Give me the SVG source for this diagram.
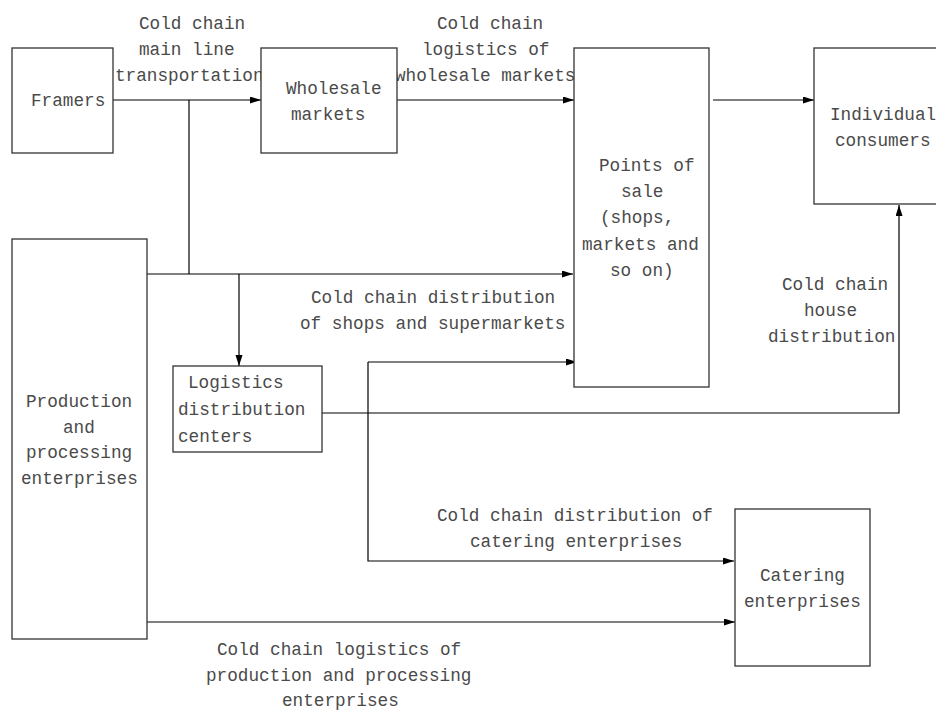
<svg xmlns="http://www.w3.org/2000/svg" width="936" height="710" viewBox="0 0 936 710">
<style>
.box{fill:#fff;stroke:#333;stroke-width:1.3}
.t{font-family:"Liberation Mono","DejaVu Sans Mono",monospace;font-size:17.7px;fill:#4a4a4a}
.c{fill:none;stroke:#000;stroke-width:1.2}
.a{marker-end:url(#ah)}
</style>
<defs>
<marker id="ah" markerUnits="userSpaceOnUse" markerWidth="12" markerHeight="8" refX="11" refY="3.5" orient="auto">
<path d="M0,0 L11,3.5 L0,7 z" fill="#000"/>
</marker>
</defs>
<rect width="936" height="710" fill="#fff"/>
<g id="connectors">
<path class="c a" d="M113,100 H261"/>
<path class="c a" d="M397,100 H574"/>
<path class="c a" d="M713,100 H814"/>
<path class="c" d="M189,100 V274"/>
<path class="c a" d="M147,274 H573"/>
<path class="c a" d="M239,274 V366"/>
<path class="c a" d="M322,413 H899 V205"/>
<path class="c a" d="M368,362 H577"/>
<path class="c a" d="M368,362 V561 H734"/>
<path class="c a" d="M147,622 H735"/>
</g>
<g id="labels">
<text class="t" x="139" y="29">Cold chain</text>
<text class="t" x="139" y="55">main line</text>
<text class="t" x="115" y="81">transportation</text>
<text class="t" x="437" y="29">Cold chain</text>
<text class="t" x="422" y="55">logistics of</text>
<text class="t" x="395" y="81">wholesale markets</text>
<text class="t" x="311" y="303">Cold chain distribution</text>
<text class="t" x="300" y="329">of shops and supermarkets</text>
<text class="t" x="782" y="290">Cold chain</text>
<text class="t" x="804" y="316">house</text>
<text class="t" x="768" y="342">distribution</text>
<text class="t" x="437" y="521">Cold chain distribution of</text>
<text class="t" x="470" y="547">catering enterprises</text>
<text class="t" x="217" y="655">Cold chain logistics of</text>
<text class="t" x="206" y="681">production and processing</text>
<text class="t" x="282" y="706">enterprises</text>
</g>
<g id="framers">
<rect class="box" x="12" y="48" width="101" height="105"/>
<text class="t" x="31" y="106">Framers</text>
</g>
<g id="wholesale">
<rect class="box" x="261" y="48" width="136" height="105"/>
<text class="t" x="286" y="94">Wholesale</text>
<text class="t" x="291" y="120">markets</text>
</g>
<g id="points-of-sale">
<rect class="box" x="574" y="48" width="135" height="339"/>
<text class="t" x="599" y="171">Points of</text>
<text class="t" x="621" y="197">sale</text>
<text class="t" x="600" y="223">(shops,</text>
<text class="t" x="582" y="250">markets and</text>
<text class="t" x="610" y="276">so on)</text>
</g>
<g id="consumers">
<rect class="box" x="814" y="48" width="136" height="156"/>
<text class="t" x="830" y="120">Individual</text>
<text class="t" x="835" y="146">consumers</text>
</g>
<g id="production">
<rect class="box" x="12" y="239" width="135" height="400"/>
<text class="t" x="26" y="407">Production</text>
<text class="t" x="63" y="432.5">and</text>
<text class="t" x="26" y="458">processing</text>
<text class="t" x="21" y="483.5">enterprises</text>
</g>
<g id="logistics">
<rect class="box" x="173" y="366" width="149" height="86"/>
<text class="t" x="188" y="388">Logistics</text>
<text class="t" x="178" y="415">distribution</text>
<text class="t" x="178" y="442">centers</text>
</g>
<g id="catering">
<rect class="box" x="735" y="509" width="135" height="157"/>
<text class="t" x="760" y="581">Catering</text>
<text class="t" x="744" y="607">enterprises</text>
</g>
</svg>
